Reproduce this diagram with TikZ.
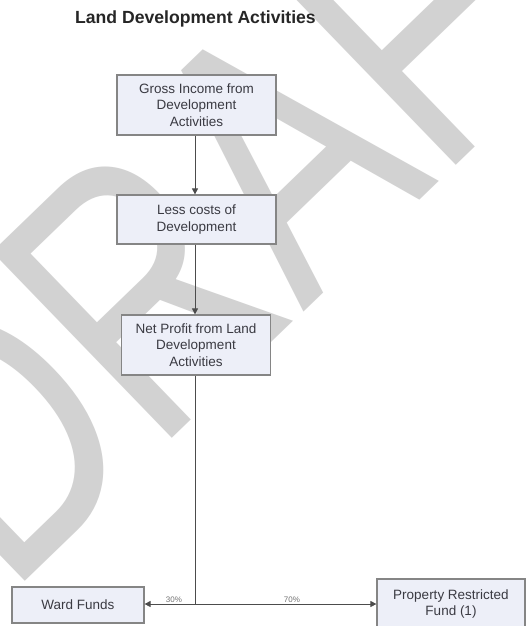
\documentclass[tikz,border=0pt]{standalone}
\usepackage{graphicx}
\usepackage{fontspec}
\setmainfont{Liberation Sans}
\usetikzlibrary{arrows.meta}
\definecolor{boxfill}{HTML}{EDEFF8}
\definecolor{boxline}{HTML}{858585}
\definecolor{txt}{HTML}{3A3A42}
\definecolor{wm}{HTML}{D2D2D2}
\tikzset{
  flowbox/.style={draw=boxline, line width=1.2pt, fill=boxfill, text=txt,
    font=\fontsize{13.5}{16.5}\selectfont, align=center, inner sep=0pt},
  conn/.style={draw=black!70, line width=0.8pt, -{Triangle[length=6pt,width=6pt]}},
  pct/.style={text=black!55, font=\fontsize{8}{9}\selectfont, inner sep=0pt}
}
\begin{document}
\begin{tikzpicture}[x=1pt,y=-1pt]
\useasboundingbox (0,0) rectangle (528,626);
\fill[white] (0,0) rectangle (528,626);
% watermark
\begin{scope}
\clip (0,0) rectangle (528,626);
\node[text=wm, rotate=44, anchor=base west, font=\fontsize{376}{376}\selectfont, inner sep=0pt] (wmk) at (8,597.5) {\scalebox{0.755}[1]{DRAFT}};
\end{scope}
% title
\node[anchor=west, font=\bfseries\fontsize{17.6}{20}\selectfont, text=black!85, inner sep=0pt] (title) at (75,19) {Land Development Activities};
% boxes
\node[flowbox, minimum width=159pt, minimum height=60pt] (g1) at (196.5,105) {Gross Income from\\Development\\Activities};
\node[flowbox, minimum width=159pt, minimum height=49pt] (g2) at (196.5,219.5) {Less costs of\\Development};
\node[flowbox, minimum width=149pt, minimum height=60pt] (g3) at (196,345) {Net Profit from Land\\Development\\Activities};
\node[flowbox, minimum width=132pt, minimum height=36pt] (wf) at (78,605) {Ward Funds};
\node[flowbox, minimum width=148pt, minimum height=50pt] (pr) at (451,604) {Property Restricted\\Fund (1)};
\coordinate (split) at (195,604);
% connectors
\draw[conn] (g1.south -| split) -- (g2.north -| split);
\draw[conn] (g2.south -| split) -- (g3.north -| split);
\draw[draw=black!70, line width=0.8pt] (g3.south -| split) -- (split);
\draw[conn] (split) -- (wf.east |- split);
\draw[conn] (split) -- (pr.west |- split);
\node[pct] (p30) at (174,600) {30\%};
\node[pct] (p70) at (292,600) {70\%};
\end{tikzpicture}
\end{document}
